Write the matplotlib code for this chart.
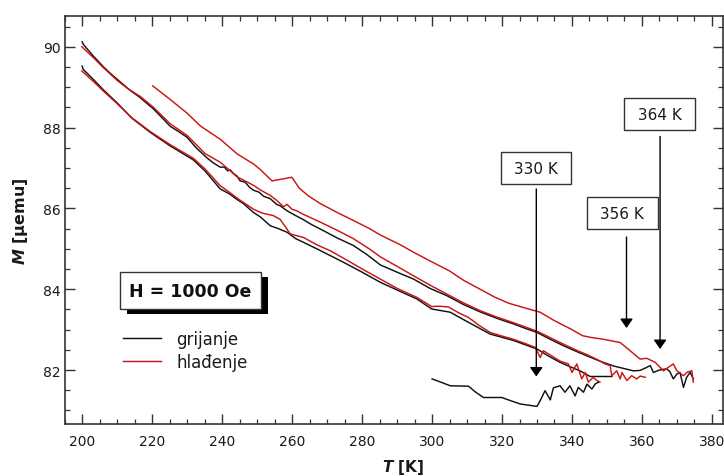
import matplotlib
matplotlib.use("Agg")
import matplotlib.pyplot as plt
import matplotlib.patheffects as pe
from matplotlib.ticker import MultipleLocator

# ---------------------------------------------------------------------------
# Podaci: M(T) krivulje, grijanje (crno) i hlađenje (crveno)
# ---------------------------------------------------------------------------
b1_T = [199.9, 200.4, 203, 206, 208.5, 210.8, 213.5, 216.5, 220.3, 223, 225.1, 227.5,
        229.9, 232.5, 235.6, 237.5, 239.4, 240.6, 241.5, 242.3, 243.2, 244.2, 245.1,
        246.5, 247.8, 248.9, 250.5, 251.8, 253.7, 255.5, 256.6, 258.5, 261, 263, 265.5,
        268, 272.8, 277.5, 281.3, 285.2, 290, 294.7, 299.4, 304.2, 309, 313.7, 318.5,
        323.3, 327, 330, 333.8, 337.6, 341, 344.3, 348, 351.9, 355.7, 357.5, 359.5, 361,
        362.4, 363.3, 365, 367.1, 368, 369.0, 370.0, 370.9, 371.9, 372.8, 373.8, 374.7]
b1_M = [90.12, 90.04, 89.78, 89.5, 89.3, 89.13, 88.93, 88.74, 88.46, 88.22, 88.03, 87.9,
        87.76, 87.5, 87.25, 87.12, 87.02, 87.02, 86.93, 86.95, 86.86, 86.8, 86.68,
        86.65, 86.52, 86.45, 86.4, 86.3, 86.24, 86.1, 86.06, 85.94, 85.82, 85.73, 85.6,
        85.49, 85.27, 85.08, 84.86, 84.6, 84.42, 84.25, 84.02, 83.84, 83.62, 83.44, 83.28,
        83.14, 83.02, 82.93, 82.76, 82.6, 82.47, 82.35, 82.22, 82.1, 82.02, 81.98, 81.99, 82.05,
        82.11, 81.94, 82.0, 82.03, 81.96, 81.78, 81.9, 81.94, 81.57, 81.82, 81.94, 81.78]

r1_T = [199.8, 203, 206, 210, 213, 216.5, 220.3, 225, 230, 235, 239.4, 242, 244.2, 246.5,
        248.9, 251, 253.7, 255.5, 257.5, 258.5, 259.9, 261.5, 263, 268, 272.8, 277.5, 282,
        285.2, 290.9, 294.7, 299.4, 304.2, 309, 313.7, 318.5, 323.3, 330, 333.8, 337.6, 341,
        344.3, 347, 349.5, 350.9, 351.4, 352.8, 353.8, 354.3, 355.7, 357.1, 358.5, 359.5, 361.0]
r1_M = [90.0, 89.74, 89.48, 89.16, 88.96, 88.77, 88.5, 88.1, 87.8, 87.36, 87.14, 86.95, 86.78,
        86.68, 86.57, 86.45, 86.32, 86.2, 86.04, 86.1, 85.98, 85.93, 85.86, 85.66, 85.46, 85.25,
        85.0, 84.8, 84.52, 84.33, 84.1, 83.88, 83.66, 83.47, 83.31, 83.17, 82.96, 82.8, 82.64,
        82.5, 82.38, 82.27, 82.15, 82.11, 81.86, 81.98, 81.78, 81.94, 81.74, 81.86, 81.78,
        81.85, 81.82]

b2_T = [199.9, 200.2, 203, 206, 209.8, 214, 219.4, 225, 231.7, 235, 239.4, 242, 244.2, 246,
        248.9, 251, 253.7, 256, 258.5, 261, 263.2, 267, 270.9, 275, 280, 285.2, 290, 295.6,
        299.9, 305.2, 310.4, 316.6, 323.3, 330, 333, 336.6, 339.5, 342.3, 345.2, 351.4]
b2_M = [89.52, 89.44, 89.2, 88.93, 88.62, 88.24, 87.88, 87.55, 87.2, 86.93, 86.48, 86.36,
        86.22, 86.12, 85.9, 85.78, 85.57, 85.5, 85.41, 85.25, 85.16, 85.0, 84.83, 84.65, 84.42,
        84.17, 83.98, 83.76, 83.51, 83.43, 83.18, 82.89, 82.73, 82.52, 82.36, 82.19, 82.08,
        81.98, 81.84, 81.84]

r2_T = [199.8, 203, 206, 209.8, 214, 219.4, 225, 231.7, 235, 239.4, 242, 245.1, 248.9, 251.5,
        254.6, 256.5, 258, 259.4, 261, 263.2, 267, 270.9, 275, 280, 285.2, 290, 295.6, 299.9,
        302, 304.7, 307.5, 310.4, 313.5, 316.6, 320, 323.3, 326.5, 329.5, 330.4, 330.9, 331.8,
        334, 336.6, 339.0, 340.0, 341.4, 342.8, 343.8, 344.7, 346.1, 347.1, 348.0]
r2_M = [89.4, 89.15, 88.9, 88.6, 88.25, 87.9, 87.58, 87.24, 86.98, 86.56, 86.4, 86.2, 85.98,
        85.88, 85.82, 85.73, 85.55, 85.37, 85.33, 85.28, 85.1, 84.95, 84.75, 84.5, 84.25, 84.02,
        83.8, 83.57, 83.58, 83.56, 83.42, 83.3, 83.1, 82.93, 82.84, 82.76, 82.66, 82.56, 82.4,
        82.31, 82.48, 82.36, 82.22, 82.15, 81.94, 82.15, 81.78, 81.94, 81.70, 81.82, 81.74, 81.70]

r3_T = [220.1, 225, 230, 233.7, 239.4, 244.2, 248.9, 251, 254.2, 259.9, 262, 264.6, 268, 272.8,
        277.5, 282.3, 285.2, 290.9, 295, 299.4, 305, 309, 313.7, 318, 322, 326, 330.9, 335,
        340, 343, 345.2, 349, 353.8, 356.6, 359.5, 361.4, 363.8, 366.2, 367.6, 369.0, 370.0,
        371.9, 373.0, 374.3, 374.7]
r3_M = [89.03, 88.7, 88.35, 88.04, 87.71, 87.35, 87.1, 86.95, 86.68, 86.77, 86.5, 86.31, 86.12,
        85.9, 85.7, 85.49, 85.34, 85.1, 84.9, 84.7, 84.45, 84.22, 84.0, 83.8, 83.65, 83.55,
        83.43, 83.22, 83.0, 82.85, 82.81, 82.76, 82.68, 82.48, 82.27, 82.29, 82.19, 81.98,
        82.07, 82.15, 81.98, 81.86, 81.95, 81.98, 81.70]

b3_T = [300, 302.5, 305.2, 310.4, 312.5, 314.7, 319.9, 322.5, 325.2, 330.0, 330.9, 332.3,
        333.8, 334.7, 336.6, 338.0, 339.4, 340.9, 341.8, 343.3, 344.3, 345.7, 346.6, 347.6]
b3_M = [81.78, 81.7, 81.61, 81.6, 81.45, 81.32, 81.32, 81.24, 81.16, 81.1, 81.24, 81.49,
        81.26, 81.56, 81.61, 81.45, 81.61, 81.36, 81.57, 81.45, 81.65, 81.53, 81.65, 81.70]

# oznake temperatura: tekst, položaj kutije, početak i vrh strelice
ann_labels = ["330 K", "356 K", "364 K"]
ann_box_T = [329.7, 354.4, 365.1]
ann_box_M = [86.99, 85.88, 88.33]
ann_arrow_T = [329.8, 355.6, 365.2]
ann_arrow_from = [86.48, 85.29, 87.78]
ann_arrow_to = [81.84, 83.04, 82.52]

BLACK = "#111111"
RED = "#cc1414"

plt.rcParams.update({
    "font.family": "DejaVu Sans",
    "mathtext.fontset": "custom",
    "mathtext.it": "DejaVu Sans:italic:bold",
    "mathtext.rm": "DejaVu Sans:bold",
})

fig = plt.figure(figsize=(7.24, 4.77), dpi=100)
ax = fig.add_axes([65 / 724, 51.7 / 477, 658 / 724, 408.3 / 477])

lw = 1.05
h_black, = ax.plot(b1_T, b1_M, color=BLACK, lw=lw)
ax.plot(b2_T, b2_M, color=BLACK, lw=lw)
ax.plot(r1_T, r1_M, color=RED, lw=lw)
h_red, = ax.plot(r2_T, r2_M, color=RED, lw=lw)
ax.plot(r3_T, r3_M, color=RED, lw=lw)
ax.plot(b3_T, b3_M, color=BLACK, lw=lw)

ax.set_xlim(195.0, 383.2)
ax.set_ylim(80.657, 90.76)

ax.xaxis.set_major_locator(MultipleLocator(20))
ax.xaxis.set_minor_locator(MultipleLocator(5))
ax.yaxis.set_major_locator(MultipleLocator(2))
ax.yaxis.set_minor_locator(MultipleLocator(0.5))
ax.tick_params(which="both", direction="in", top=True, right=True,
               color="#333333", labelcolor="#1a1a1a", labelsize=10)
ax.tick_params(which="major", length=7, width=1.0)
ax.tick_params(which="minor", length=3.6, width=0.9)
ax.tick_params(axis="x", pad=7)
ax.tick_params(axis="y", pad=3)
for s in ax.spines.values():
    s.set_color("#333333")
    s.set_linewidth(1.2)

ax.set_xlabel(r"$T$ [K]", fontsize=11, fontweight="bold", color="#1a1a1a")
ax.set_ylabel(r"$M$ [μemu]", fontsize=11.5, fontweight="bold", color="#1a1a1a")
ax.xaxis.set_label_coords(0.514, -0.079)
ax.yaxis.set_label_coords(-0.053, 0.5)

# kutija s poljem i sjenom
t = ax.text(230.9, 83.96, "H = 1000 Oe", fontsize=12.5, fontweight="bold",
            ha="center", va="center", color="#111111",
            bbox=dict(boxstyle="square,pad=0.55", fc="white", ec="#333333", lw=1.0))
t.get_bbox_patch().set_path_effects(
    [pe.withSimplePatchShadow(offset=(5, -3.6), shadow_rgbFace="black", alpha=1.0)])

ax.legend([h_black, h_red], ["grijanje", "hlađenje"], loc="upper left",
          bbox_to_anchor=(0.088, 0.231), frameon=False, fontsize=12,
          handlelength=2.3, handletextpad=0.9, labelspacing=0.3,
          borderpad=0, borderaxespad=0, labelcolor="#1a1a1a")

for lab, bx, by, axx, a0, a1 in zip(ann_labels, ann_box_T, ann_box_M,
                                     ann_arrow_T, ann_arrow_from, ann_arrow_to):
    ax.text(bx, by, " " + lab + " ", fontsize=11, ha="center", va="center",
            color="#1a1a1a",
            bbox=dict(boxstyle="square,pad=0.55", fc="white", ec="#333333", lw=1.0))
    ax.annotate("", xy=(axx, a1), xytext=(axx, a0),
                arrowprops=dict(arrowstyle="-|>,head_length=0.5,head_width=0.35",
                                color="black", lw=1.0, shrinkA=0, shrinkB=0,
                                mutation_scale=11))

fig.savefig("out.png", dpi=100)
